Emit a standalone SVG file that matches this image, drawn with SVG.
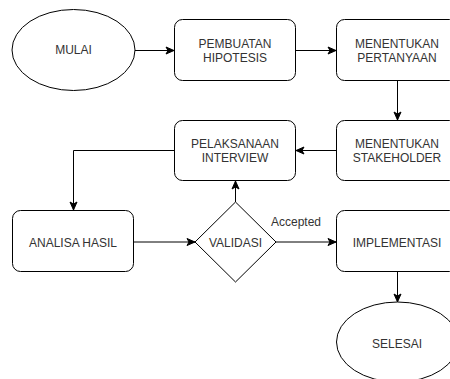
<svg xmlns="http://www.w3.org/2000/svg" width="450" height="379" viewBox="0 0 450 379">
<defs>
<marker id="arr" markerUnits="userSpaceOnUse" markerWidth="10" markerHeight="10" viewBox="0 0 10 10" refX="9" refY="5" orient="auto">
<path d="M1,1.5 L9,5 L1,8.5 L3,5 Z" fill="#000" stroke="#000" stroke-width="1"/>
</marker>
<style>
.n{fill:#fff;stroke:#000;stroke-width:1}
.t{font-family:"Liberation Sans",Arial,sans-serif;font-size:12px;fill:#333;text-anchor:middle}
.e{fill:none;stroke:#000;stroke-width:1;marker-end:url(#arr)}
</style>
</defs>
<rect width="450" height="379" fill="#fff"/>
<g id="edges">
<path class="e" d="M135,50.5 H174"/>
<path class="e" d="M296,50.5 H336"/>
<path class="e" d="M397.5,80 V120"/>
<path class="e" d="M336,150.5 H296"/>
<path class="e" d="M174,150.5 H73.5 V210"/>
<path class="e" d="M134,242 H195"/>
<path class="e" d="M235.5,202 V181"/>
<path class="e" d="M276,242 H336"/>
<path class="e" d="M397.5,272 V302"/>
<text x="296" y="226" class="t">Accepted</text>
</g>
<g id="mulai"><ellipse class="n" cx="73.5" cy="50" rx="61.5" ry="40.5"/><text class="t" x="73.5" y="54">MULAI</text></g>
<g id="pembuatan"><rect class="n" x="174.5" y="19.5" width="121" height="61" rx="8"/><text class="t" x="235" y="47.5">PEMBUATAN</text><text class="t" x="235" y="61.5">HIPOTESIS</text></g>
<g id="pertanyaan"><rect class="n" x="336.5" y="19.5" width="121" height="61" rx="8"/><text class="t" x="397" y="47.5">MENENTUKAN</text><text class="t" x="397" y="61.5">PERTANYAAN</text></g>
<g id="pelaksanaan"><rect class="n" x="174.5" y="120.5" width="121" height="60" rx="8"/><text class="t" x="235" y="148">PELAKSANAAN</text><text class="t" x="235" y="162">INTERVIEW</text></g>
<g id="stakeholder"><rect class="n" x="336.5" y="120.5" width="121" height="60" rx="8"/><text class="t" x="397" y="148">MENENTUKAN</text><text class="t" x="397" y="162">STAKEHOLDER</text></g>
<g id="analisa"><rect class="n" x="12.5" y="210.5" width="121" height="61" rx="8"/><text class="t" x="73" y="246.5">ANALISA HASIL</text></g>
<g id="validasi"><polygon class="n" points="235.5,202 276,242 235.5,282 195,242"/><text class="t" x="235.5" y="246.5">VALIDASI</text></g>
<g id="implementasi"><rect class="n" x="336.5" y="210.5" width="121" height="61" rx="8"/><text class="t" x="397" y="246.5">IMPLEMENTASI</text></g>
<g id="selesai"><ellipse class="n" cx="397.5" cy="342" rx="61" ry="40"/><text class="t" x="397" y="348">SELESAI</text></g>
</svg>
